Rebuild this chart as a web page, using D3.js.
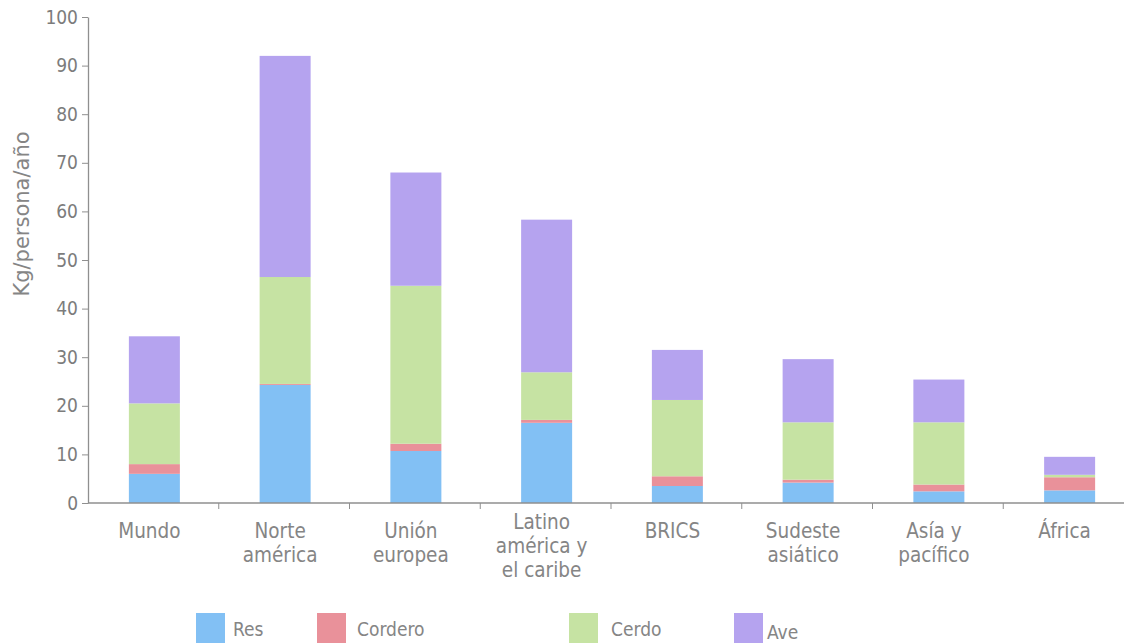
<!DOCTYPE html>
<html>
<head>
<meta charset="utf-8">
<script src="https://cdn.jsdelivr.net/npm/d3@7"></script>
<style>
  html, body { margin: 0; padding: 0; background: #ffffff; }
  svg { display: block; }
</style>
</head>
<body>
<svg id="chart" width="1124" height="643"></svg>
<script>
// Meat consumption per person per year, by region and meat type
const regions = [
  ["Mundo"],
  ["Norte", "américa"],
  ["Unión", "europea"],
  ["Latino", "américa y", "el caribe"],
  ["BRICS"],
  ["Sudeste", "asiático"],
  ["Asía y", "pacífico"],
  ["África"]
];
const meatTypes = ["Res", "Cordero", "Cerdo", "Ave"];
const res     = [6.0, 24.3, 10.7, 16.5, 3.5, 4.2, 2.4, 2.6];
const cordero = [2.0,  0.2,  1.5,  0.6, 2.0, 0.6, 1.4, 2.7];
const cerdo   = [12.5, 22.0, 32.5, 9.8, 15.7, 11.8, 12.8, 0.5];
const ave     = [13.8, 45.5, 23.3, 31.4, 10.3, 13.0, 8.8, 3.7];
const yTicks  = [0, 10, 20, 30, 40, 50, 60, 70, 80, 90, 100];
const colors  = ["#82c0f4", "#e9919a", "#c6e3a3", "#b5a3ef"];

const rows = regions.map((r, i) => ({
  key: r.join(" "),
  lines: r,
  Res: res[i], Cordero: cordero[i], Cerdo: cerdo[i], Ave: ave[i]
}));

const svg = d3.select("#chart");
const plotLeft = 88, plotRight = 1134, plotTop = 17, plotBottom = 503;

const x = d3.scaleBand()
  .domain(rows.map(d => d.key))
  .range([plotLeft, plotRight])
  .paddingInner(0)
  .paddingOuter(0);

const y = d3.scaleLinear().domain([0, 100]).range([plotBottom, plotTop]);
const color = d3.scaleOrdinal().domain(meatTypes).range(colors);

const stacked = d3.stack().keys(meatTypes)(rows);
const barW = 51;

svg.append("g")
  .selectAll("g")
  .data(stacked)
  .join("g")
  .attr("fill", d => color(d.key))
  .selectAll("rect")
  .data(d => d)
  .join("rect")
  .attr("x", d => x(d.data.key) + (x.bandwidth() - barW) / 2 + 1)
  .attr("y", d => y(d[1]))
  .attr("width", barW)
  .attr("height", d => Math.max(0, y(d[0]) - y(d[1])));

const axisColor = "#8f8f8f";
const textColor = "#858585";

// Y axis
const yAxis = svg.append("g")
  .attr("transform", `translate(${plotLeft},0)`)
  .call(d3.axisLeft(y).tickValues(yTicks).tickSize(6).tickSizeOuter(0).tickPadding(4));
yAxis.select(".domain").attr("stroke", axisColor).attr("stroke-width", 1.3);
yAxis.selectAll(".tick line").attr("stroke", axisColor);
yAxis.selectAll(".tick text")
  .attr("fill", "#7c7c7c")
  .attr("font-family", "'Liberation Sans Narrow', 'DejaVu Sans Condensed', sans-serif")
  .attr("font-size", 19);

// X axis with boundary ticks between regions
const xAxis = svg.append("g").attr("transform", `translate(0,${plotBottom})`);
xAxis.append("line")
  .attr("x1", plotLeft).attr("x2", plotRight)
  .attr("stroke", axisColor).attr("stroke-width", 1.3);
xAxis.selectAll("line.sep")
  .data(rows.slice(1))
  .join("line")
  .attr("class", "sep")
  .attr("x1", d => x(d.key)).attr("x2", d => x(d.key))
  .attr("y1", 0).attr("y2", 6)
  .attr("stroke", axisColor);

// Region names, wrapped over one to three lines
const labels = svg.append("g")
  .attr("font-family", "'DejaVu Sans Condensed', 'DejaVu Sans', sans-serif")
  .attr("font-size", 20.5)
  .attr("fill", textColor)
  .attr("text-anchor", "middle");
labels.selectAll("text")
  .data(rows)
  .join("text")
  .attr("x", d => x(d.key) + x.bandwidth() / 2 - 4)
  .attr("y", d => d.lines.length === 3 ? 529 : 538)
  .selectAll("tspan")
  .data(d => d.lines.map((t, i) => ({ t, i, cx: x(d.key) + x.bandwidth() / 2 - 4 })))
  .join("tspan")
  .attr("x", d => d.cx)
  .attr("dy", d => d.i === 0 ? 0 : 24)
  .text(d => d.t);

// Y axis title
svg.append("text")
  .attr("transform", "translate(29,214) rotate(-90)")
  .attr("text-anchor", "middle")
  .attr("font-family", "'DejaVu Sans', sans-serif")
  .attr("font-size", 21)
  .attr("fill", textColor)
  .text("Kg/persona/año");

// Legend
const legendPos = [
  { sx: 196, tx: 233, ty: 636 },
  { sx: 317, tx: 357, ty: 636 },
  { sx: 569, tx: 611, ty: 636 },
  { sx: 734, tx: 767, ty: 639 }
];
const legend = svg.append("g");
legend.selectAll("rect")
  .data(meatTypes)
  .join("rect")
  .attr("x", (d, i) => legendPos[i].sx)
  .attr("y", 613)
  .attr("width", 29)
  .attr("height", 30)
  .attr("fill", d => color(d));
legend.selectAll("text")
  .data(meatTypes)
  .join("text")
  .attr("x", (d, i) => legendPos[i].tx)
  .attr("y", (d, i) => legendPos[i].ty)
  .attr("font-family", "'DejaVu Sans Condensed', 'DejaVu Sans', sans-serif")
  .attr("font-size", 19)
  .attr("fill", textColor)
  .text(d => d);
</script>
</body>
</html>
